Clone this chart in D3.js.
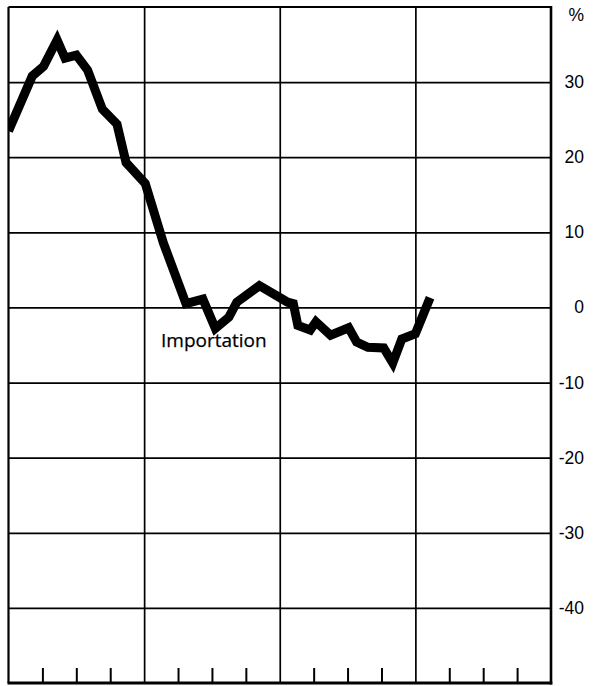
<!DOCTYPE html>
<html>
<head>
<meta charset="utf-8">
<script src="https://cdn.jsdelivr.net/npm/d3@7/dist/d3.min.js"></script>
<style>
  html, body { margin: 0; padding: 0; background: #fff; }
  svg { display: block; }
  .num { font-family: "Liberation Sans", Arial, Helvetica, sans-serif; font-size: 17.5px; fill: #000; }
  .series-label { font-family: "Open Sans", "Liberation Sans", sans-serif; font-size: 19px; fill: #000; stroke: #000; stroke-width: 0.25px; }
</style>
</head>
<body>
<script>
// Import growth, % change — month index from start of the first year
const months = [0, 2.1, 3.1, 4.3, 5.0, 6.0, 7.0, 8.3, 9.6, 10.4, 12.1, 13.7, 15.7, 17.2, 18.3, 19.5,
                20.2, 22.2, 24.7, 25.2, 25.6, 26.7, 27.2, 28.5, 30.1, 30.8, 31.8, 33.2, 34.0, 34.8, 36.0, 37.3];
const importPct = [23.5, 30.8, 32.1, 35.6, 33.2, 33.6, 31.6, 26.4, 24.4, 19.3, 16.5, 8.6, 0.5, 1.1, -2.8, -1.3,
                   0.7, 2.9, 0.7, 0.5, -2.4, -3.0, -1.9, -3.7, -2.7, -4.6, -5.3, -5.4, -7.4, -4.2, -3.5, 1.3];
const yTicks = [30, 20, 10, 0, -10, -20, -30, -40];
const yTickLabels = ["30", "20", "10", "0", "-10", "-20", "-30", "-40"];
const yearBounds = [12, 24, 36];
const quarterTicks = [3, 6, 9, 15, 18, 21, 27, 30, 33, 39, 42, 45];
const seriesName = "Importation";

const W = 599, H = 686;
const plotLeft = 8.5, plotRight = 551, plotTop = 7, plotBottom = 683;

const x = d3.scaleLinear().domain([0, 48]).range([plotLeft, plotRight]);
const y = d3.scaleLinear().domain([-50, 40]).range([plotBottom, plotTop]);

const svg = d3.select("body").append("svg").attr("width", W).attr("height", H);

// horizontal grid
svg.append("g")
  .attr("transform", `translate(${plotLeft},0)`)
  .call(d3.axisRight(y).tickValues(yTicks).tickSize(plotRight - plotLeft).tickFormat(""))
  .call(g => g.select(".domain").remove())
  .call(g => g.selectAll("line").attr("stroke", "#000").attr("stroke-width", 1.7));

// vertical year grid
svg.append("g")
  .attr("transform", `translate(0,${plotTop})`)
  .call(d3.axisBottom(x).tickValues(yearBounds).tickSize(plotBottom - plotTop).tickFormat(""))
  .call(g => g.select(".domain").remove())
  .call(g => g.selectAll("line").attr("stroke", "#000").attr("stroke-width", 1.7));

// quarter ticks along the bottom
svg.append("g")
  .attr("transform", `translate(0,${plotBottom})`)
  .call(d3.axisBottom(x).tickValues(quarterTicks).tickSize(-15).tickFormat(""))
  .call(g => g.select(".domain").remove())
  .call(g => g.selectAll("line").attr("stroke", "#000").attr("stroke-width", 2));

// frame
svg.append("line").attr("x1", plotLeft).attr("x2", plotLeft).attr("y1", plotTop).attr("y2", plotBottom)
  .attr("stroke", "#000").attr("stroke-width", 2.2);
svg.append("line").attr("x1", plotLeft).attr("x2", plotRight).attr("y1", plotTop).attr("y2", plotTop)
  .attr("stroke", "#000").attr("stroke-width", 2.2);
svg.append("line").attr("x1", plotRight).attr("x2", plotRight).attr("y1", plotTop - 1).attr("y2", plotBottom + 1.5)
  .attr("stroke", "#000").attr("stroke-width", 2.6);
svg.append("line").attr("x1", plotLeft - 1).attr("x2", plotRight + 1.3).attr("y1", plotBottom).attr("y2", plotBottom)
  .attr("stroke", "#000").attr("stroke-width", 3);

// right-hand value labels
svg.append("g").selectAll("text")
  .data(yTicks)
  .join("text")
  .attr("class", "num")
  .attr("x", 584)
  .attr("y", d => y(d))
  .attr("text-anchor", "end")
  .attr("dominant-baseline", "central")
  .text((d, i) => yTickLabels[i]);

svg.append("text").attr("class", "num")
  .attr("x", 584).attr("y", 15)
  .attr("text-anchor", "end").attr("dominant-baseline", "central")
  .text("%");

// series line
svg.append("clipPath").attr("id", "plot-clip")
  .append("rect").attr("x", plotLeft).attr("y", plotTop)
  .attr("width", plotRight - plotLeft).attr("height", plotBottom - plotTop);

const line = d3.line().x((d, i) => x(months[i])).y(d => y(d));
svg.append("path")
  .datum(importPct)
  .attr("clip-path", "url(#plot-clip)")
  .attr("d", line)
  .attr("fill", "none")
  .attr("stroke", "#000")
  .attr("stroke-width", 9)
  .attr("stroke-linejoin", "miter")
  .attr("stroke-miterlimit", 3)
  .attr("stroke-linecap", "butt");

svg.append("text").attr("class", "series-label")
  .attr("x", 161).attr("y", 347)
  .text(seriesName);
</script>
</body>
</html>
